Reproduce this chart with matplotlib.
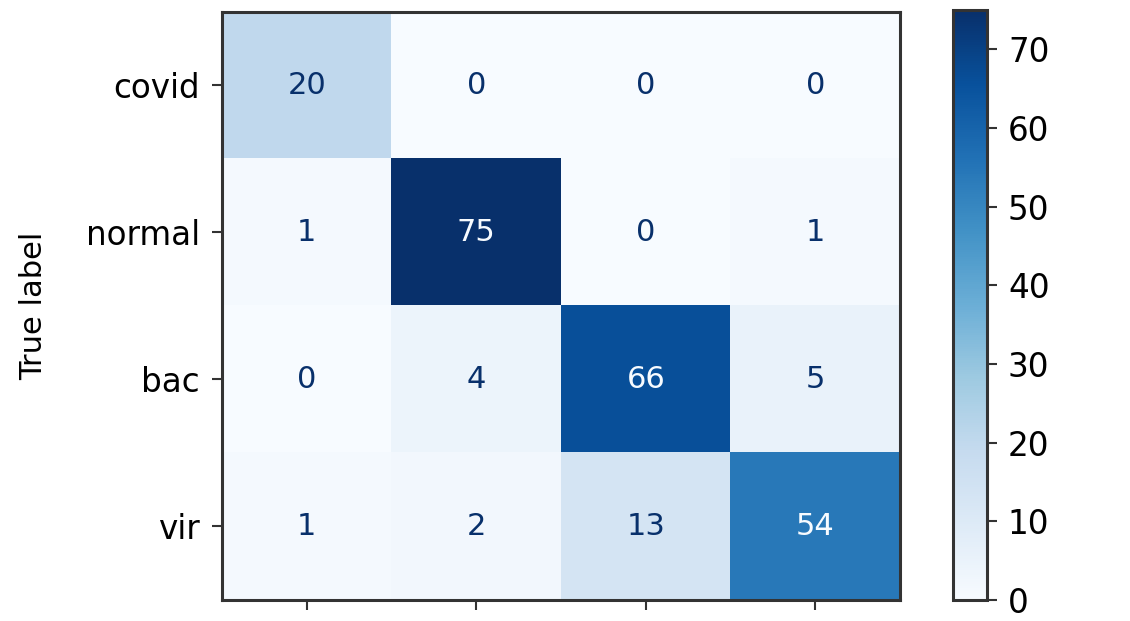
import numpy as np
import matplotlib
matplotlib.use("Agg")
import matplotlib.pyplot as plt

labels = ["covid", "normal", "bac", "vir"]
cm_values = [
    [20, 0, 0, 0],
    [1, 75, 0, 1],
    [0, 4, 66, 5],
    [1, 2, 13, 54],
]
cbar_ticks = [0, 10, 20, 30, 40, 50, 60, 70]

cm = np.array(cm_values)
cmap = plt.get_cmap("Blues")

fig = plt.figure(figsize=(11.3, 6.21), dpi=100)
ax = fig.add_axes([0.1965, 0.0338, 0.600, 0.947])
cax = fig.add_axes([0.8434, 0.0338, 0.0301, 0.950])

im = ax.imshow(cm, cmap=cmap, aspect="auto", vmin=cm.min(), vmax=cm.max())
thresh = (cm.max() + cm.min()) / 2.0
for i in range(cm.shape[0]):
    for j in range(cm.shape[1]):
        color = cmap(0.0) if cm[i, j] > thresh else cmap(1.0)
        ax.text(j, i, str(cm[i, j]), ha="center", va="center", color=color, fontsize=22)

ax.set_xticks(range(len(labels)))
ax.set_xticklabels([""] * len(labels))
ax.set_yticks(range(len(labels)))
ax.set_yticklabels(labels, fontsize=23.5)
ax.set_ylabel("True label", fontsize=22, labelpad=27)
ax.tick_params(length=7, width=1.5, color="#333333", pad=9)
for s in ax.spines.values():
    s.set_linewidth(2.2)
    s.set_color("#333333")

cb = fig.colorbar(im, cax=cax)
cb.set_ticks(cbar_ticks)
cb.ax.tick_params(labelsize=23.5, length=7, width=1.5, color="#333333", pad=8)
cb.outline.set_linewidth(2.2)
cb.outline.set_edgecolor("#333333")

fig.savefig("out.png", dpi=100)
